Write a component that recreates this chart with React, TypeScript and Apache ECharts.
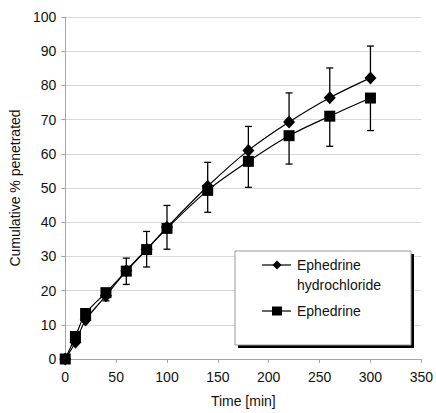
import React, { useEffect, useRef } from "react";
import * as echarts from "echarts";

const times = [0, 10, 20, 40, 60, 80, 100, 140, 180, 220, 260, 300];
const hclValues = [0, 4.9, 11.4, 18.5, 25.8, 32.1, 38.5, 50.5, 61.0, 69.3, 76.4, 82.2];
const hclErrUp = [0, 1, 1, 2, 3.7, 5.2, 6.4, 7.0, 7.0, 8.5, 8.7, 9.3];
const baseValues = [0, 6.6, 13.3, 19.4, 25.7, 32.0, 38.2, 49.3, 57.8, 65.3, 71.0, 76.3];
const baseErrDown = [0, 1, 1, 2.4, 3.9, 5.1, 6.1, 6.4, 7.6, 8.3, 8.8, 9.5];
const xTicks = [0, 50, 100, 150, 200, 250, 300, 350];
const yTicks = [0, 10, 20, 30, 40, 50, 60, 70, 80, 90, 100];
const seriesNames = ["Ephedrine\nhydrochloride", "Ephedrine"];

const FONT = "'Liberation Sans', Arial, sans-serif";
const FS = 14;

export default function App() {
  const ref = useRef<HTMLDivElement>(null);
  useEffect(() => {
    if (!ref.current) return;
    const chart = echarts.init(ref.current, null, { renderer: "svg" });
    const errRender = (params: any, api: any) => {
      const x = api.value(0);
      const y = api.value(1);
      const y2 = api.value(2);
      const p1 = api.coord([x, y]);
      const p2 = api.coord([x, y2]);
      const hw = 3.5;
      const style = { stroke: "#000", lineWidth: 1.3 };
      return {
        type: "group",
        children: [
          { type: "line", shape: { x1: p1[0], y1: p1[1], x2: p2[0], y2: p2[1] }, style },
          { type: "line", shape: { x1: p2[0] - hw, y1: p2[1], x2: p2[0] + hw, y2: p2[1] }, style },
        ],
      };
    };
    const hclErrData = times.map((t, i) => [t, hclValues[i], hclValues[i] + hclErrUp[i]]);
    const baseErrData = times.map((t, i) => [t, baseValues[i], baseValues[i] - baseErrDown[i]]);
    const legX = 235, legY = 251, legW = 176, legH = 94;
    chart.setOption({
      animation: false,
      textStyle: { fontFamily: FONT },
      grid: { left: 59, right: 13, top: 17, bottom: 51 },
      xAxis: {
        type: "value",
        min: 0,
        max: 350,
        interval: 50,
        name: "Time [min]",
        nameLocation: "middle",
        nameGap: 35,
        nameTextStyle: { fontSize: FS, color: "#111", fontFamily: FONT },
        axisLine: { show: true, lineStyle: { color: "#a6a6a6" } },
        axisTick: { show: true, length: 4, lineStyle: { color: "#a6a6a6" } },
        axisLabel: { fontSize: FS, color: "#111", margin: 11, fontFamily: FONT,
          formatter: (v: number) => (xTicks.includes(v) ? String(v) : "") },
        splitLine: { show: false },
      },
      yAxis: {
        type: "value",
        min: 0,
        max: 100,
        interval: 10,
        name: "Cumulative % penetrated",
        nameLocation: "middle",
        nameGap: 35,
        nameTextStyle: { fontSize: FS, color: "#111", fontFamily: FONT },
        axisLine: { show: true, lineStyle: { color: "#a6a6a6" } },
        axisTick: { show: true, length: 4, lineStyle: { color: "#a6a6a6" } },
        axisLabel: { fontSize: FS, color: "#111", margin: 9, fontFamily: FONT,
          formatter: (v: number) => (yTicks.includes(v) ? String(v) : "") },
        splitLine: { show: true, lineStyle: { color: "#d9d9d9", width: 1 } },
      },
      series: [
        { type: "custom", renderItem: errRender, data: hclErrData, z: 1, silent: true },
        { type: "custom", renderItem: errRender, data: baseErrData, z: 1, silent: true },
        {
          name: seriesNames[0],
          type: "line",
          smooth: 0.3,
          data: times.map((t, i) => [t, hclValues[i]]),
          symbol: "diamond",
          symbolSize: [12, 13],
          itemStyle: { color: "#000" },
          lineStyle: { color: "#000", width: 1.2 },
          z: 3,
        },
        {
          name: seriesNames[1],
          type: "line",
          smooth: 0.3,
          data: times.map((t, i) => [t, baseValues[i]]),
          symbol: "rect",
          symbolSize: 11,
          itemStyle: { color: "#000" },
          lineStyle: { color: "#000", width: 1.2 },
          z: 3,
        },
      ],
      graphic: [
        { type: "rect", z: 5, shape: { x: legX + 3, y: legY + 3, width: legW, height: legH }, style: { fill: "#000" } },
        { type: "rect", z: 6, shape: { x: legX, y: legY, width: legW, height: legH }, style: { fill: "#fff", stroke: "#999", lineWidth: 1 } },
        { type: "line", z: 7, shape: { x1: 262, y1: 265, x2: 291, y2: 265 }, style: { stroke: "#000", lineWidth: 1.2 } },
        { type: "polygon", z: 7, shape: { points: [[277, 260.5], [281.5, 265], [277, 269.5], [272.5, 265]] }, style: { fill: "#000" } },
        { type: "text", z: 7, x: 297, y: 255, style: { text: seriesNames[0], font: `${FS}px ${FONT}`, fill: "#111", lineHeight: 20, verticalAlign: "top" } },
        { type: "line", z: 7, shape: { x1: 262, y1: 311, x2: 291, y2: 311 }, style: { stroke: "#000", lineWidth: 1.2 } },
        { type: "rect", z: 7, shape: { x: 272, y: 306.5, width: 10, height: 9 }, style: { fill: "#000" } },
        { type: "text", z: 7, x: 297, y: 311, style: { text: seriesNames[1], font: `${FS}px ${FONT}`, fill: "#111", verticalAlign: "middle" } },
      ],
    });
    return () => chart.dispose();
  }, []);
  return <div ref={ref} style={{ width: 436, height: 413, position: "absolute", left: 0, top: 0 }} />;
}
